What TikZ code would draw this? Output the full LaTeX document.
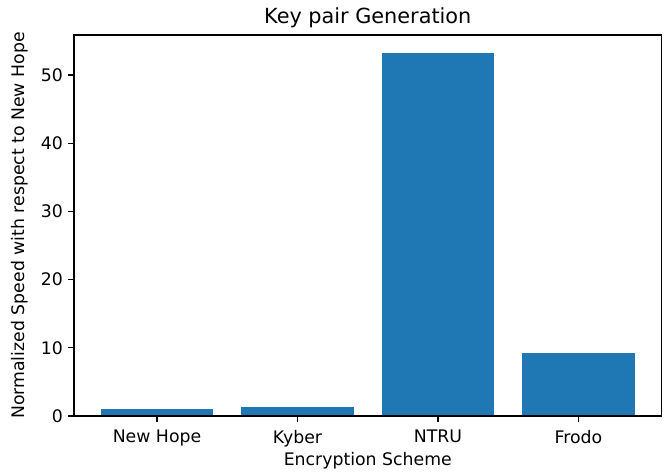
\documentclass[tikz,border=0pt]{standalone}
\usepackage{fontspec}
\setmainfont{DejaVu Sans}
\definecolor{barblue}{HTML}{1F77B4}
\tikzset{
  bar/.style={fill=barblue, draw=none},
  frame/.style={draw=black, line width=1.3pt},
  tick/.style={draw=black, line width=1.3pt},
  ticklabel/.style={font=\fontsize{17.3}{20}\selectfont, inner sep=0pt},
  axislabel/.style={font=\fontsize{17.3}{20}\selectfont, inner sep=0pt},
  titlelabel/.style={font=\fontsize{20.8}{24}\selectfont, inner sep=0pt}
}

\begin{document}
\begin{tikzpicture}[x=1pt,y=1pt]
\useasboundingbox (0,0) rectangle (664,472);

%%% data axes %%%
\begin{scope}[shift={(157,56)}, x=140.5pt, y=6.82pt]

  % bars
  \foreach \i/\v in {0/1.0, 1/1.3, 2/53.2, 3/9.3}
    \fill[bar] (\i-0.4,0) rectangle (\i+0.4,\v);

  % frame
  \draw[frame] (-0.59,0) rectangle (3.59,55.86);
  \coordinate (midx) at (1.5,0);

  % x ticks
  \foreach \i/\name in {0/New Hope, 1/Kyber, 2/NTRU, 3/Frodo}
  {
    \draw[tick] (\i,0) -- ++(0,-6pt);
    \node[ticklabel, anchor=north] (xt\i) at ([yshift=-14pt]\i,0) {\name};
  }

  % y ticks
  \foreach \v in {0,10,...,50}
  {
    \draw[tick] (-0.59,\v) -- ++(-6pt,0);
    \node[ticklabel, anchor=east] (yt\v) at ([xshift=-11pt]-0.59,\v) {\v};
  }

  % labels
  \node[titlelabel, anchor=base] (title) at ([yshift=12pt]1.5,55.86) {Key pair Generation};
  \node[axislabel, anchor=north] (xlabel) at ([yshift=-6pt]xt0.south -| midx) {Encryption Scheme};
  \node[axislabel, rotate=90, anchor=center] (ylabel) at ([xshift=-54pt]-0.59,27.93) {Normalized Speed with respect to New Hope};

\end{scope}

\end{tikzpicture}
\end{document}
